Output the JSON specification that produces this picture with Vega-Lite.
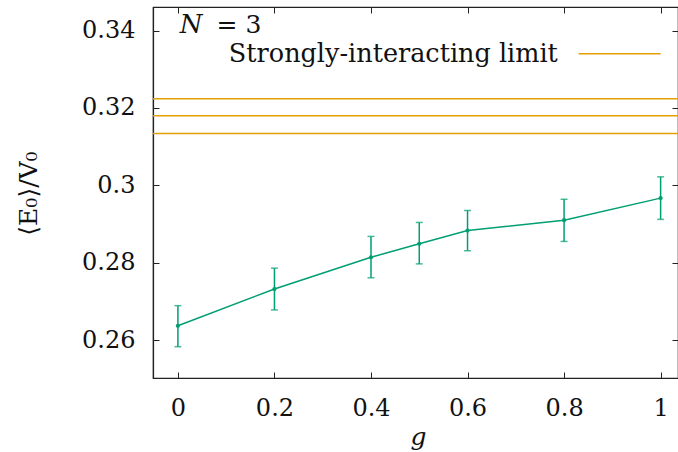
{
  "$schema": "https://vega.github.io/schema/vega-lite/v6.json",
  "width": 525,
  "height": 371,
  "autosize": "none",
  "padding": {"left": 153, "top": 7, "right": 0, "bottom": 74},
  "background": "white",
  "config": {
    "view": {"stroke": "#222", "strokeWidth": 1.2},
    "font": "DejaVu Serif",
    "axis": {
      "grid": false,
      "domainColor": "#222",
      "domainWidth": 1.2,
      "tickColor": "#222",
      "tickWidth": 1,
      "tickSize": -6,
      "labelFont": "DejaVu Serif",
      "labelFontSize": 24,
      "labelColor": "#111",
      "titleFont": "DejaVu Serif",
      "titleFontSize": 25,
      "titleColor": "#111",
      "titleFontWeight": "normal"
    }
  },
  "datasets": {
    "pts": [
      {"g": 0.0, "E": 0.2637, "lo": 0.2583, "hi": 0.2689},
      {"g": 0.2, "E": 0.2732, "lo": 0.2678, "hi": 0.2786},
      {"g": 0.4, "E": 0.2814, "lo": 0.2761, "hi": 0.2868},
      {"g": 0.5, "E": 0.2849, "lo": 0.2797, "hi": 0.2904},
      {"g": 0.6, "E": 0.2883, "lo": 0.2831, "hi": 0.2935},
      {"g": 0.8, "E": 0.2910, "lo": 0.2855, "hi": 0.2964},
      {"g": 1.0, "E": 0.2967, "lo": 0.2912, "hi": 0.3022}
    ],
    "limits": [
      {"limit": 0.3224},
      {"limit": 0.3180},
      {"limit": 0.3134}
    ]
  },
  "resolve": {"axis": {"x": "independent", "y": "independent"}},
  "layer": [
    {
      "data": {"name": "pts"},
      "mark": {"type": "line", "color": "#009E73", "strokeWidth": 1.5, "clip": true},
      "encoding": {
        "x": {
          "field": "g", "type": "quantitative",
          "scale": {"domain": [-0.0516, 1.036], "nice": false, "zero": false},
          "axis": {
            "orient": "bottom", "values": [0, 0.2, 0.4, 0.6, 0.8, 1],
            "labelExpr": "datum.value === 0 ? '0' : format(datum.value, '.1~f')",
            "labelPadding": 24, "title": "g", "titleFontStyle": "italic",
            "titleX": 265, "titleY": 58, "titleBaseline": "middle"
          }
        },
        "y": {
          "field": "E", "type": "quantitative",
          "scale": {"domain": [0.2502, 0.3461], "nice": false, "zero": false},
          "axis": {
            "orient": "left", "values": [0.26, 0.28, 0.3, 0.32, 0.34],
            "labelExpr": "format(datum.value, '.2~f')",
            "labelPadding": 24,
            "title": "⟨E₀⟩/V₀", "titleX": -125, "titleY": 186,
            "titleAngle": -90, "titleBaseline": "middle", "titleAlign": "center"
          }
        }
      }
    },
    {
      "data": {"name": "pts"},
      "mark": {"type": "line", "opacity": 0},
      "encoding": {
        "x": {"field": "g", "type": "quantitative",
          "axis": {"orient": "top", "values": [0, 0.2, 0.4, 0.6, 0.8, 1], "labels": false, "title": null, "domain": false}},
        "y": {"field": "E", "type": "quantitative",
          "axis": {"orient": "right", "values": [0.26, 0.28, 0.3, 0.32, 0.34], "labels": false, "title": null, "domain": false}}
      }
    },
    {
      "data": {"name": "limits"},
      "mark": {"type": "rule", "color": "#E69F00", "strokeWidth": 1.5},
      "encoding": {
        "y": {"field": "limit", "type": "quantitative", "axis": null}
      }
    },
    {
      "data": {"name": "pts"},
      "mark": {"type": "rule", "color": "#009E73", "strokeWidth": 1.5},
      "encoding": {
        "x": {"field": "g", "type": "quantitative", "axis": null},
        "y": {"field": "lo", "type": "quantitative", "axis": null},
        "y2": {"field": "hi"}
      }
    },
    {
      "data": {"name": "pts"},
      "mark": {"type": "tick", "orient": "horizontal", "color": "#009E73", "size": 7, "thickness": 1.5},
      "encoding": {
        "x": {"field": "g", "type": "quantitative", "axis": null},
        "y": {"field": "lo", "type": "quantitative", "axis": null}
      }
    },
    {
      "data": {"name": "pts"},
      "mark": {"type": "tick", "orient": "horizontal", "color": "#009E73", "size": 7, "thickness": 1.5},
      "encoding": {
        "x": {"field": "g", "type": "quantitative", "axis": null},
        "y": {"field": "hi", "type": "quantitative", "axis": null}
      }
    },
    {
      "data": {"name": "pts"},
      "mark": {"type": "point", "filled": true, "color": "#009E73", "size": 18, "opacity": 1},
      "encoding": {
        "x": {"field": "g", "type": "quantitative", "axis": null},
        "y": {"field": "E", "type": "quantitative", "axis": null}
      }
    },
    {
      "data": {"values": [{}]},
      "mark": {"type": "rule", "color": "#E69F00", "strokeWidth": 1.5},
      "encoding": {
        "x": {"datum": 0.83, "type": "quantitative", "axis": null},
        "x2": {"datum": 1.0},
        "y": {"datum": 0.334, "type": "quantitative", "axis": null}
      }
    },
    {
      "data": {"values": [{}]},
      "mark": {"type": "text", "text": "Strongly-interacting limit", "align": "right", "baseline": "middle", "fontSize": 25.5, "font": "DejaVu Serif", "color": "#111"},
      "encoding": {
        "x": {"datum": 0.787, "type": "quantitative", "axis": null},
        "y": {"datum": 0.334, "type": "quantitative", "axis": null}
      }
    },
    {
      "data": {"values": [{}]},
      "mark": {"type": "text", "text": "N", "align": "left", "baseline": "alphabetic", "fontSize": 26, "fontStyle": "italic", "font": "DejaVu Serif", "color": "#111"},
      "encoding": {
        "x": {"datum": 0.004, "type": "quantitative", "axis": null},
        "y": {"datum": 0.3395, "type": "quantitative", "axis": null}
      }
    },
    {
      "data": {"values": [{}]},
      "mark": {"type": "text", "text": "= 3", "align": "left", "baseline": "alphabetic", "fontSize": 25, "font": "DejaVu Serif", "color": "#111"},
      "encoding": {
        "x": {"datum": 0.08, "type": "quantitative", "axis": null},
        "y": {"datum": 0.3395, "type": "quantitative", "axis": null}
      }
    }
  ]
}
